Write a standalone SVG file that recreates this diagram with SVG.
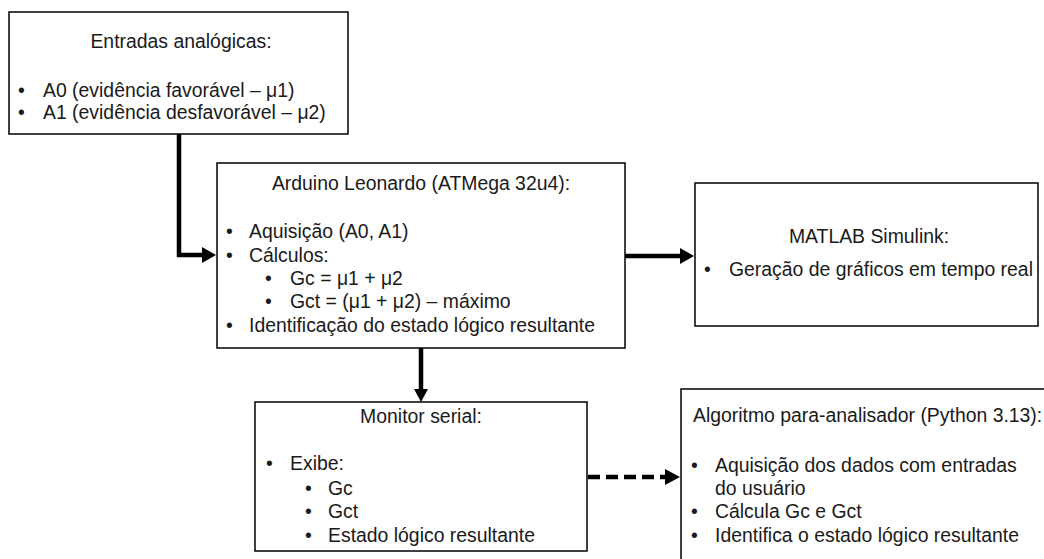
<svg xmlns="http://www.w3.org/2000/svg" width="1044" height="559" viewBox="0 0 1044 559">
<defs>
<style>
.box{fill:#fff;stroke:#000;stroke-width:1.5}
text{font-family:"Liberation Sans",Arial,sans-serif;font-size:19.4px;fill:#1a1a1a}
.c{text-anchor:middle}
.ln{fill:none;stroke:#000;stroke-width:4.5}
.dash{stroke-dasharray:12 6}
</style>
</defs>
<rect width="1044" height="559" fill="#fff"/>
<g id="connectors">
<path class="ln" d="M179,134 V255 H204"/>
<path d="M202,247 L216,255 L202,263 Z" fill="#000"/>
<path class="ln" d="M625,256 H682"/>
<path d="M680,248 L694,256 L680,264 Z" fill="#000"/>
<path class="ln" d="M421,348 V391"/>
<path d="M414,389 L421,402 L428,389 Z" fill="#000"/>
<path class="ln dash" d="M588,477 H666"/>
<path d="M665,469 L680,477 L665,485 Z" fill="#000"/>
</g>
<g id="entradas">
<rect class="box" x="9" y="12" width="339" height="122"/>
<text class="c" x="181" y="48">Entradas analógicas:</text>
<text x="18" y="97">•</text><text x="43" y="97">A0 (evidência favorável – μ1)</text>
<text x="18" y="119">•</text><text x="43" y="119">A1 (evidência desfavorável – μ2)</text>
</g>
<g id="arduino">
<rect class="box" x="217" y="163" width="408" height="185"/>
<text class="c" x="421" y="190">Arduino Leonardo (ATMega 32u4):</text>
<text x="226" y="238">•</text><text x="249" y="238">Aquisição (A0, A1)</text>
<text x="226" y="262">•</text><text x="249" y="262">Cálculos:</text>
<text x="265" y="285">•</text><text x="290" y="285">Gc = μ1 + μ2</text>
<text x="265" y="308">•</text><text x="290" y="308">Gct = (μ1 + μ2) – máximo</text>
<text x="226" y="332">•</text><text x="249" y="332">Identificação do estado lógico resultante</text>
</g>
<g id="matlab">
<rect class="box" x="695" y="183" width="343" height="143"/>
<text class="c" x="869" y="243">MATLAB Simulink:</text>
<text x="704" y="276">•</text><text x="729" y="276">Geração de gráficos em tempo real</text>
</g>
<g id="monitor">
<rect class="box" x="255" y="402" width="332" height="149"/>
<text class="c" x="421" y="423">Monitor serial:</text>
<text x="266" y="470">•</text><text x="290" y="470">Exibe:</text>
<text x="305" y="495">•</text><text x="328" y="495">Gc</text>
<text x="305" y="518">•</text><text x="328" y="518">Gct</text>
<text x="305" y="542">•</text><text x="328" y="542">Estado lógico resultante</text>
</g>
<g id="python">
<rect class="box" x="681" y="389" width="380" height="190"/>
<text x="693" y="422">Algoritmo para-analisador (Python 3.13):</text>
<text x="691" y="472">•</text><text x="715" y="472">Aquisição dos dados com entradas</text>
<text x="715" y="495">do usuário</text>
<text x="691" y="518">•</text><text x="715" y="518">Cálcula Gc e Gct</text>
<text x="691" y="542">•</text><text x="715" y="542">Identifica o estado lógico resultante</text>
</g>
</svg>
